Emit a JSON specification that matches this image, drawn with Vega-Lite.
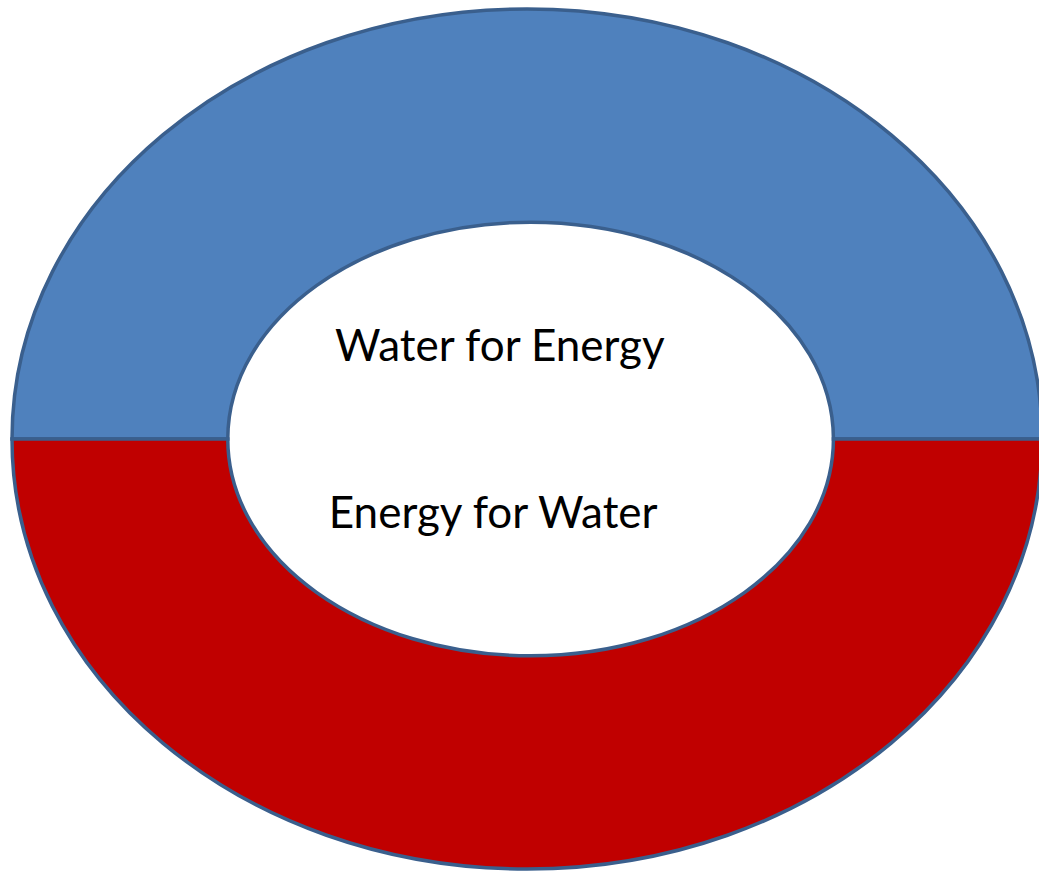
{
  "$schema": "https://vega.github.io/schema/vega-lite/v6.json",
  "width": 1024,
  "height": 876,
  "autosize": "none",
  "padding": {"left": 15, "top": 1, "right": 0, "bottom": 0},
  "background": "white",
  "config": {"view": {"stroke": null}},
  "data": {"values": [
    {"category": "Water for Energy", "value": 50, "cx": 0, "cy": 0},
    {"category": "Energy for Water", "value": 50, "cx": 0, "cy": 0}
  ]},
  "layer": [
    {
      "mark": {"type": "point", "filled": true, "opacity": 1, "stroke": "#3A5F8D", "strokeWidth": 3.5, "size": 1060900},
      "encoding": {
        "x": {"field": "cx", "type": "quantitative", "scale": {"domain": [-1, 1]}, "axis": null},
        "y": {"field": "cy", "type": "quantitative", "scale": {"domain": [-1, 1]}, "axis": null},
        "shape": {"field": "category", "type": "nominal", "legend": null,
          "scale": {"domain": ["Water for Energy", "Energy for Water"],
            "range": ["M -1 0 A 1 0.835 0 0 1 1 0 L 0.595 0 A 0.588 0.421 0 0 0 -0.581 0 Z",
                      "M -1 0 A 1 0.835 0 0 0 1 0 L 0.595 0 A 0.588 0.421 0 0 1 -0.581 0 Z"]}},
        "fill": {"field": "category", "type": "nominal", "legend": null,
          "scale": {"domain": ["Water for Energy", "Energy for Water"], "range": ["#4F81BD", "#C00000"]}}
      }
    },
    {
      "mark": {"type": "text", "font": "Lato", "fontSize": 44, "color": "black", "baseline": "middle", "align": "center"},
      "transform": [{"filter": "datum.category === 'Water for Energy'"}],
      "encoding": {
        "x": {"datum": -0.053, "type": "quantitative"},
        "y": {"datum": 0.208, "type": "quantitative"},
        "text": {"field": "category"}
      }
    },
    {
      "mark": {"type": "text", "font": "Lato", "fontSize": 44, "color": "black", "baseline": "middle", "align": "center"},
      "transform": [{"filter": "datum.category === 'Energy for Water'"}],
      "encoding": {
        "x": {"datum": -0.066, "type": "quantitative"},
        "y": {"datum": -0.174, "type": "quantitative"},
        "text": {"field": "category"}
      }
    }
  ]
}
